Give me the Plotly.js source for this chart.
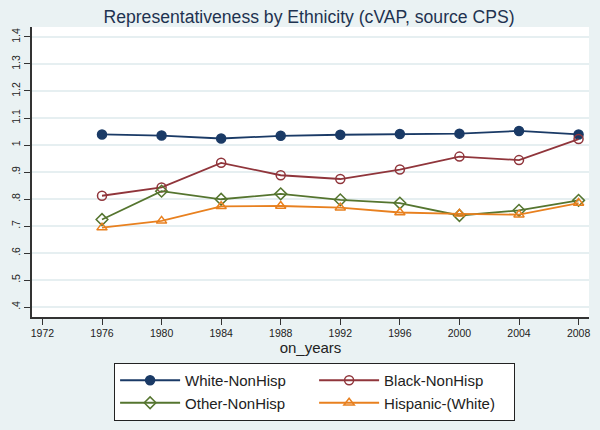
<!DOCTYPE html>
<html>
<head>
<meta charset="utf-8">
<script src="https://cdn.plot.ly/plotly-3.0.1.min.js"></script>
<style>
  html, body { margin: 0; padding: 0; background: #eaf2f3; }
  #chart { width: 600px; height: 430px; }
</style>
</head>
<body>
<div id="chart"></div>
<script>
// Representativeness ratios, presidential years
var years = [1976, 1980, 1984, 1988, 1992, 1996, 2000, 2004, 2008]
var white_nonhisp = [1.039, 1.035, 1.024, 1.034, 1.038, 1.041, 1.042, 1.052, 1.039]
var black_nonhisp = [0.812, 0.843, 0.934, 0.888, 0.874, 0.909, 0.957, 0.944, 1.022]
var other_nonhisp = [0.724, 0.829, 0.799, 0.819, 0.797, 0.785, 0.739, 0.758, 0.795]
var hispanic_white = [0.694, 0.719, 0.773, 0.774, 0.768, 0.750, 0.745, 0.742, 0.785]

var y_ticks = [0.4, 0.5, 0.6, 0.7, 0.8, 0.9, 1.0, 1.1, 1.2, 1.3, 1.4]
var y_tick_labels = ['.4', '.5', '.6', '.7', '.8', '.9', '1', '1.1', '1.2', '1.3', '1.4']
var x_ticks = [1972, 1976, 1980, 1984, 1988, 1992, 1996, 2000, 2004, 2008]

var config = {responsive: false, displayModeBar: false}

function series(name, y, color, symbol) {
  return {
    x: years,
    y: y,
    name: name,
    type: 'scatter',
    mode: 'lines+markers',
    line: {color: color, width: 1.8},
    marker: {color: color, symbol: symbol, size: 9, line: {color: color, width: 1.5}},
  }
}

var chart_data = [
  series('White-NonHisp', white_nonhisp, '#1a3a66', 'circle'),
  series('Black-NonHisp', black_nonhisp, '#90353b', 'circle-open'),
  series('Other-NonHisp', other_nonhisp, '#55752f', 'diamond-open'),
  series('Hispanic-(White)', hispanic_white, '#e8801f', 'triangle-up-open'),
]

var chart_layout = {
  width: 600,
  height: 430,
  paper_bgcolor: '#eaf2f3',
  plot_bgcolor: '#ffffff',
  font: {family: 'Liberation Sans, Arial, sans-serif', color: '#222222'},
  // keep the plot box fixed, the legend must not push it up
  margin: {l: 32, r: 11, t: 27, b: 113, autoexpand: false},
  title: {
    text: 'Representativeness by Ethnicity (cVAP, source CPS)',
    font: {size: 17.6, color: '#1e3350'},
    x: 0.515,
    xanchor: 'center',
    y: 0.975,
    yanchor: 'top',
  },
  xaxis: {
    range: [1971.3, 2008.7],
    tickvals: x_ticks,
    ticks: 'outside',
    ticklen: 6,
    tickcolor: '#333333',
    tickfont: {size: 10.5, color: '#222222'},
    showgrid: false,
    zeroline: false,
    showline: true,
    linecolor: '#333333',
    linewidth: 1.5,
    title: {text: 'on_years', font: {size: 15, color: '#222222'}, standoff: 2},
  },
  yaxis: {
    range: [0.363, 1.437],
    tickvals: y_ticks,
    ticktext: y_tick_labels,
    tickangle: -90,
    ticks: 'outside',
    ticklen: 6,
    tickcolor: '#333333',
    tickfont: {size: 10.5, color: '#222222'},
    showgrid: true,
    gridcolor: '#e6eff1',
    gridwidth: 2,
    zeroline: false,
    showline: true,
    linecolor: '#333333',
    linewidth: 1.5,
  },
  showlegend: true,
  legend: {
    orientation: 'h',
    x: 0.507,
    xanchor: 'center',
    y: -0.158,
    yanchor: 'top',
    itemwidth: 60,
    entrywidth: 124,
    bgcolor: '#ffffff',
    bordercolor: '#222222',
    borderwidth: 1.2,
    font: {size: 15, color: '#222222'},
    traceorder: 'normal',
  },
}

Plotly.newPlot('chart', chart_data, chart_layout, config)
</script>
</body>
</html>
